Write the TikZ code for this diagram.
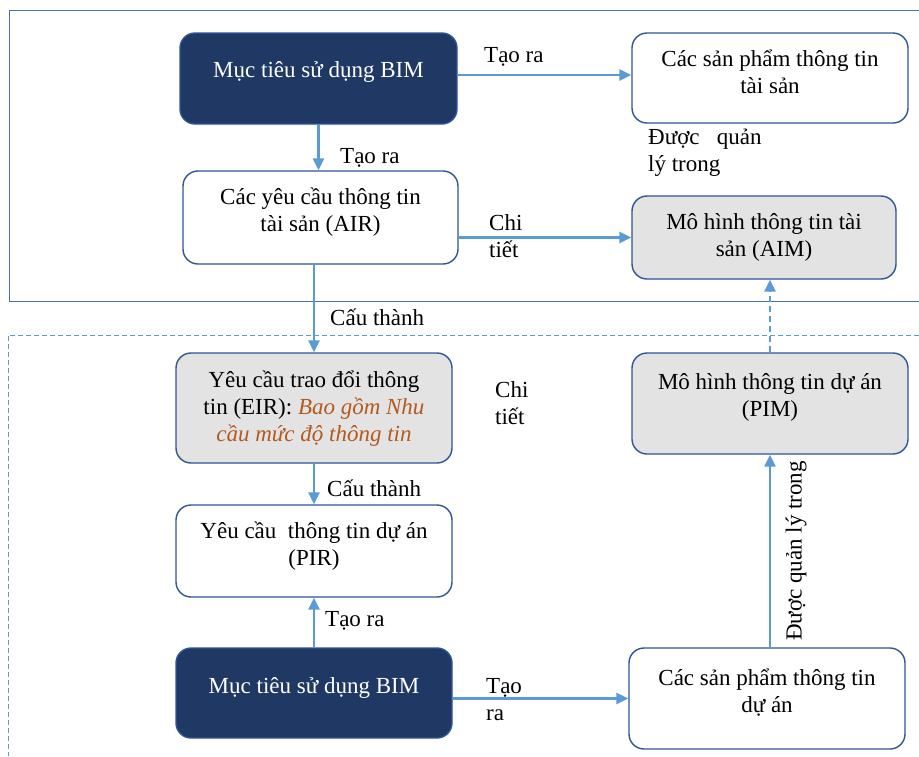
\documentclass[tikz,border=0pt]{standalone}
\usepackage{fontspec}
\setmainfont{Liberation Serif}
\usetikzlibrary{arrows.meta,positioning}
\definecolor{pnavy}{HTML}{1F3864}
\definecolor{pedge}{HTML}{2F5597}
\definecolor{parrow}{HTML}{5B9BD5}
\definecolor{pgray}{HTML}{E3E3E3}
\definecolor{pframe}{HTML}{4A6FB0}
\definecolor{pbrown}{HTML}{B35A1F}
\tikzset{
  % rounded box, fill given as argument
  blk/.style   = {rectangle, rounded corners=15pt, draw=pedge, line width=1.4pt, fill=#1,
                  align=center, inner sep=0pt, text depth=14pt,
                  font=\fontsize{23}{27}\selectfont},
  blk/.default = white,
  goal/.style  = {blk=pnavy, text=white, text depth=18pt},
  arr/.style   = {-{Triangle[length=12pt,width=11pt]}, line width=2.4pt, parrow},
  lbl/.style   = {font=\fontsize{23}{27}\selectfont, align=left, inner sep=0pt},
}

\begin{document}
\begin{tikzpicture}[x=1pt,y=-1pt]
\useasboundingbox (0,0) rectangle (919,756);
% frames
\draw[pframe, line width=1pt] (919,10) -- (9,10) -- (9,301) -- (919,301);
\draw[parrow, line width=1pt, dash pattern=on 5pt off 3pt] (919,335) -- (8,335) -- (8,756);
% asset side
\node[goal, minimum width=277, minimum height=91] (bimA) at (318.5,78.5) {Mục tiêu sử dụng BIM};
\node[blk, minimum width=275, minimum height=93, text depth=16pt] (air) at (320.5,217.5) {Các yêu cầu thông tin\\tài sản (AIR)};
\node[blk, minimum width=276, minimum height=90, text depth=12pt] (prodA) at (770,78) {Các sản phẩm thông tin\\tài sản};
\node[blk=pgray, minimum width=264, minimum height=83, text depth=5pt] (aim) at (764,237.5) {Mô hình thông tin tài\\sản (AIM)};
% project side
\node[blk=pgray, minimum width=276, minimum height=110, text depth=3pt] (eir) at (314,408)
  {Yêu cầu trao đổi thông\\tin (EIR): \textcolor{pbrown}{\itshape Bao gồm Nhu}\\\textcolor{pbrown}{\itshape cầu mức độ thông tin}};
\node[blk, minimum width=276, minimum height=92] (pir) at (314,551) {Yêu cầu\ \ thông tin dự án\\(PIR)};
\node[goal, minimum width=276, minimum height=90, text depth=16pt] (bimB) at (314,693) {Mục tiêu sử dụng BIM};
\node[blk=pgray, minimum width=276, minimum height=101, text depth=17pt] (pim) at (770,403.5) {Mô hình thông tin dự án\\(PIM)};
\node[blk, minimum width=276, minimum height=101, text depth=16pt] (prodP) at (767,698.5) {Các sản phẩm thông tin\\dự án};
% connectors
\draw[arr] (bimA.east |- 0,75) -- (prodA.west |- 0,75);
\draw[arr] (bimA.south) -- (bimA.south |- air.north);
\draw[arr] (air.east |- aim.west) -- (aim.west);
\draw[arr] (eir.north |- air.south) -- (eir.north);
\draw[arr] (eir) -- (pir);
\draw[arr] (bimB) -- (pir);
\draw[arr] (bimB.east |- prodP.west) -- (prodP.west);
\draw[arr] (pim.south |- prodP.north) -- (pim.south);
\draw[arr, dash pattern=on 6pt off 4pt] (pim.north) -- (pim.north |- aim.south);
% labels
\node[lbl, anchor=west] (tA) at (484,57) {Tạo ra};
\node[lbl, anchor=west] (tB) at (340,158) {Tạo ra};
\node[lbl, anchor=north west] (mA) at (648,129) {Được\hspace{0.75em}quản\\lý trong};
\node[lbl, anchor=north west] (cA) at (489,214) {Chi\\tiết};
\node[lbl, anchor=west] (kA) at (330,317) {Cấu thành};
\node[lbl, anchor=north west] (cB) at (495,381) {Chi\\tiết};
\node[lbl, anchor=west] (kB) at (327,488) {Cấu thành};
\node[lbl, anchor=west] (tC) at (325,621) {Tạo ra};
\node[lbl, anchor=north west] (tD) at (486,678) {Tạo\\ra};
\node[lbl, rotate=90] (mB) at (796,551) {Được quản lý trong};
\end{tikzpicture}
\end{document}
